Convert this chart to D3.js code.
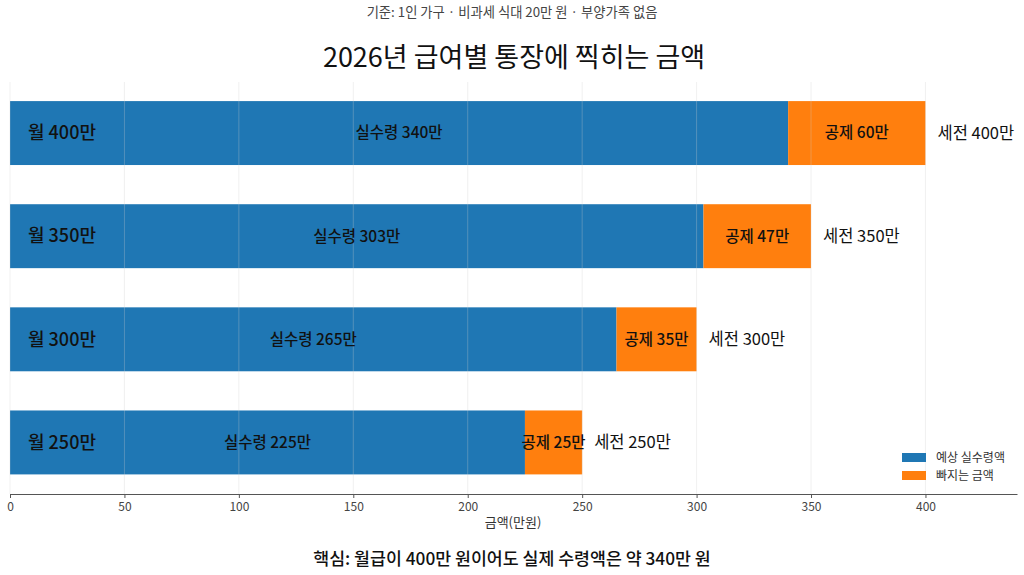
<!DOCTYPE html>
<html><head><meta charset="utf-8">
<script src="https://cdn.jsdelivr.net/npm/d3@7"></script>
<style>body{margin:0;background:#fff;}svg{display:block;font-family:"Noto Sans CJK KR","Noto Sans",sans-serif;}</style>
</head><body><svg id="c" width="1024" height="575"></svg>
<script>
const categories = ["월 400만", "월 350만", "월 300만", "월 250만"];
const gross = [400, 350, 300, 250];
const netPay = [340, 303, 265, 225];
const deductions = [60, 47, 35, 25];
const xTicks = [0, 50, 100, 150, 200, 250, 300, 350, 400];
const seriesNames = ["예상 실수령액", "빠지는 금액"];
const colors = ["#1f77b4", "#ff7f0e"];

const svg = d3.select("#c");
const x = d3.scaleLinear().domain([0, 440]).range([10, 1017]);
const y = d3.scaleBand().domain(categories).range([81.5, 494]).paddingInner(0.38).paddingOuter(0.19);

svg.append("text").attr("x", 512).attr("y", 17).attr("text-anchor", "middle")
  .attr("font-size", 13.3).attr("fill", "#444").text("기준: 1인 가구 · 비과세 식대 20만 원 · 부양가족 없음");
svg.append("text").attr("x", 514).attr("y", 67).attr("text-anchor", "middle")
  .attr("font-size", 27).attr("font-weight", 400).attr("fill", "#111").text("2026년 급여별 통장에 찍히는 금액");

const rows = categories.map((c, i) => ({c, g: gross[i], n: netPay[i], d: deductions[i]}));

// bars
svg.append("g").selectAll("rect.net").data(rows).join("rect")
  .attr("x", x(0)).attr("y", d => y(d.c)).attr("width", d => x(d.n) - x(0)).attr("height", y.bandwidth())
  .attr("fill", colors[0]);
svg.append("g").selectAll("rect.ded").data(rows).join("rect")
  .attr("x", d => x(d.n)).attr("y", d => y(d.c)).attr("width", d => x(d.n + d.d) - x(d.n)).attr("height", y.bandwidth())
  .attr("fill", colors[1]);

// gridlines
svg.append("g").selectAll("line").data(xTicks).join("line")
  .attr("x1", d => x(d)).attr("x2", d => x(d)).attr("y1", 82).attr("y2", 494)
  .attr("stroke", "#ccc").attr("stroke-opacity", 0.3).attr("stroke-width", 1);

// labels
const lab = svg.append("g");
lab.selectAll("text.cat").data(rows).join("text")
  .attr("x", 28).attr("y", d => y(d.c) + y.bandwidth() / 2).attr("dy", "0.35em")
  .attr("font-size", 18).attr("font-weight", 500).attr("fill", "#111").text(d => d.c);
lab.selectAll("text.net").data(rows).join("text")
  .attr("x", d => (x(0) + x(d.n)) / 2).attr("y", d => y(d.c) + y.bandwidth() / 2).attr("dy", "0.35em")
  .attr("text-anchor", "middle").attr("font-size", 15.5).attr("font-weight", 500).attr("fill", "#111")
  .text(d => "실수령 " + d.n + "만");
lab.selectAll("text.ded").data(rows).join("text")
  .attr("x", d => (x(d.n) + x(d.n + d.d)) / 2).attr("y", d => y(d.c) + y.bandwidth() / 2).attr("dy", "0.35em")
  .attr("text-anchor", "middle").attr("font-size", 15.5).attr("font-weight", 500).attr("fill", "#111")
  .text(d => "공제 " + d.d + "만");
lab.selectAll("text.gross").data(rows).join("text")
  .attr("x", d => x(d.g) + 12).attr("y", d => y(d.c) + y.bandwidth() / 2).attr("dy", "0.35em")
  .attr("font-size", 16.5).attr("fill", "#111").text(d => "세전 " + d.g + "만");

// axis
const ax = svg.append("g").attr("transform", "translate(0,494)")
  .call(d3.axisBottom(x).tickValues(xTicks).tickSize(4).tickPadding(4).tickSizeOuter(0));
ax.select(".domain").attr("stroke", "#555");
ax.selectAll(".tick line").attr("stroke", "#555");
ax.selectAll(".tick text").attr("font-size", 12).attr("fill", "#444").attr("font-family", "Noto Sans CJK KR");
svg.append("text").attr("x", 513).attr("y", 527).attr("text-anchor", "middle")
  .attr("font-size", 13).attr("fill", "#333").text("금액(만원)");

// legend
const lg = svg.append("g").attr("transform", "translate(902,453)");
seriesNames.forEach((s, i) => {
  lg.append("rect").attr("x", 0).attr("y", i * 18).attr("width", 24).attr("height", 9).attr("fill", colors[i]);
  lg.append("text").attr("x", 34).attr("y", i * 18 + 4.5).attr("dy", "0.35em")
    .attr("font-size", 12).attr("fill", "#333").text(s);
});

svg.append("text").attr("x", 512).attr("y", 565).attr("text-anchor", "middle")
  .attr("font-size", 17.3).attr("font-weight", 500).attr("fill", "#111")
  .text("핵심: 월급이 400만 원이어도 실제 수령액은 약 340만 원");
</script></body></html>
